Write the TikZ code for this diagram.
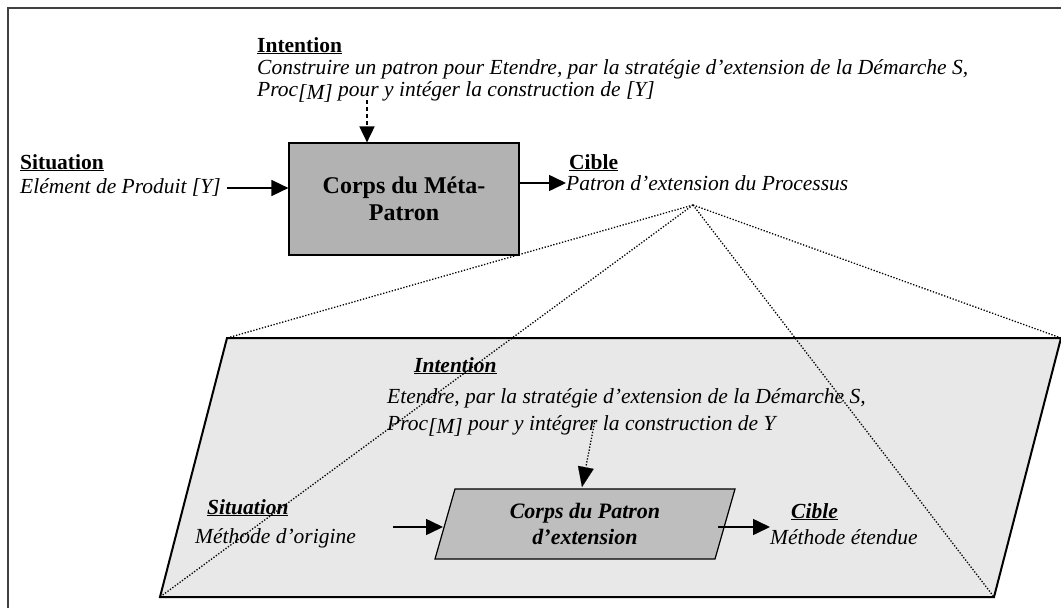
\documentclass[tikz,border=0pt]{standalone}
\usepackage{fontspec}
\setmainfont{Liberation Serif}
\usetikzlibrary{arrows.meta,calc}
\definecolor{boxgray}{HTML}{B2B2B2}
\definecolor{ibox}{HTML}{BEBEBE}
\definecolor{pfill}{HTML}{E8E8E8}
\begin{document}
\begin{tikzpicture}[x=1pt,y=-1pt,
  txt/.style={anchor=base west, inner sep=0pt, font=\fontsize{21.5}{23}\selectfont\itshape},
  hd/.style={anchor=base west, inner sep=0pt, font=\fontsize{21.5}{23}\selectfont\bfseries},
  ihd/.style={anchor=base west, inner sep=0pt, font=\fontsize{21.5}{23}\selectfont\bfseries\itshape},
  arr/.style={line width=1.6pt, -{Triangle[length=17pt,width=16pt]}},
  dotl/.style={line width=1.3pt, dash pattern=on 1.3pt off 1.7pt},
  frame/.style={line width=1.5pt, draw=black!75}]
\useasboundingbox (0,0) rectangle (1061,608);
\begin{scope}
\clip (0,0) rectangle (1061,608);
\draw[frame] (8,8) rectangle (1100,660);
\end{scope}

% ---------- top level ----------
\node[hd] (int) at (257,52) {\underline{Intention}};
\node[txt] (intA) at (257,74) {Construire un patron pour Etendre, par la stratégie d’extension de la Démarche S,};
\node[txt] (intB) at (257,96) {Proc\raisebox{-3pt}{[M]} pour y intéger la construction de [Y]};

\node[draw, line width=1.2pt, fill=boxgray, minimum width=230pt, minimum height=112pt,
      align=center, font=\fontsize{24}{27}\selectfont\bfseries] (meta) at (404,199)
      {Corps du Méta-\\Patron};

\coordinate (intS) at (367,100);
\draw[line width=1.8pt, dash pattern=on 4pt off 3pt, -{Triangle[length=16pt,width=15pt]}]
  (intS) -- (intS |- meta.north);

\node[hd] (sit) at (20,169) {\underline{Situation}};
\node[txt] (sitT) at (20,193) {Elément de Produit [Y]};
\draw[arr] (sitT.east |- 0,188) ++(6,0) coordinate (sitS) -- (meta.west |- sitS);

\node[hd] (cib) at (569,169) {\underline{Cible}};
\node[txt] (cibT) at (566,190) {Patron d’extension du Processus};
\coordinate (cibS) at (meta.east |- 0,183);
\draw[arr] (cibS) -- (cibT.west |- cibS);

% ---------- zoomed pattern ----------
\coordinate (pTL) at (227,338);
\coordinate (pTR) at (1061,338);
\coordinate (pBR) at (994,597);
\coordinate (pBL) at (160,597);
\fill[pfill] (pTL) -- (pTR) -- (pBR) -- (pBL) -- cycle;
\draw[line width=2pt] (pTL) -- (pTR) -- (pBR) -- (pBL) -- cycle;

\coordinate (apex) at (693,205);
\draw[dotl] (apex) -- (pTL);
\draw[dotl] (apex) -- (pBL);
\draw[dotl] (apex) -- (pBR);
\draw[dotl] (apex) -- (pTR);

\node[ihd] (iint) at (414,372) {\underline{Intention}};
\node[txt] (iintA) at (387,403) {Etendre, par la stratégie d’extension de la Démarche S,};
\node[txt] (iintB) at (387,430) {Proc\raisebox{-3pt}{[M]} pour y intégrer la construction de Y};

\coordinate (bTL) at (455,489);
\coordinate (bTR) at (735,489);
\coordinate (bBR) at (715,559);
\coordinate (bBL) at (435,559);
\filldraw[fill=ibox, line width=1.2pt] (bTL) -- (bTR) -- (bBR) -- (bBL) -- cycle;
\node[align=center, font=\fontsize{22}{26}\selectfont\bfseries\itshape] (corps) at (585,524)
  {Corps du Patron\\d’extension};

\coordinate (iS) at (595,420);
\coordinate (iE) at (582,487);
\draw[dotl] (iS) -- ($(iS)!0.7!(iE)$) coordinate (iM);
\draw[line width=0.1pt, -{Triangle[length=20pt,width=16pt]}] (iM) -- (iE);

\node[ihd] (isit) at (207,514) {\underline{Situation}};
\node[txt] (isitT) at (195,543) {Méthode d’origine};
\coordinate (isS) at (393,527);
\coordinate (isE) at (443,527);
\draw[arr] (isS) -- (isE);

\node[ihd] (icib) at (791,518) {\underline{Cible}};
\node[txt] (icibT) at (770,544) {Méthode étendue};
\coordinate (icS) at (718,527);
\draw[arr] (icS) -- (icibT.west |- icS);
\end{tikzpicture}
\end{document}
